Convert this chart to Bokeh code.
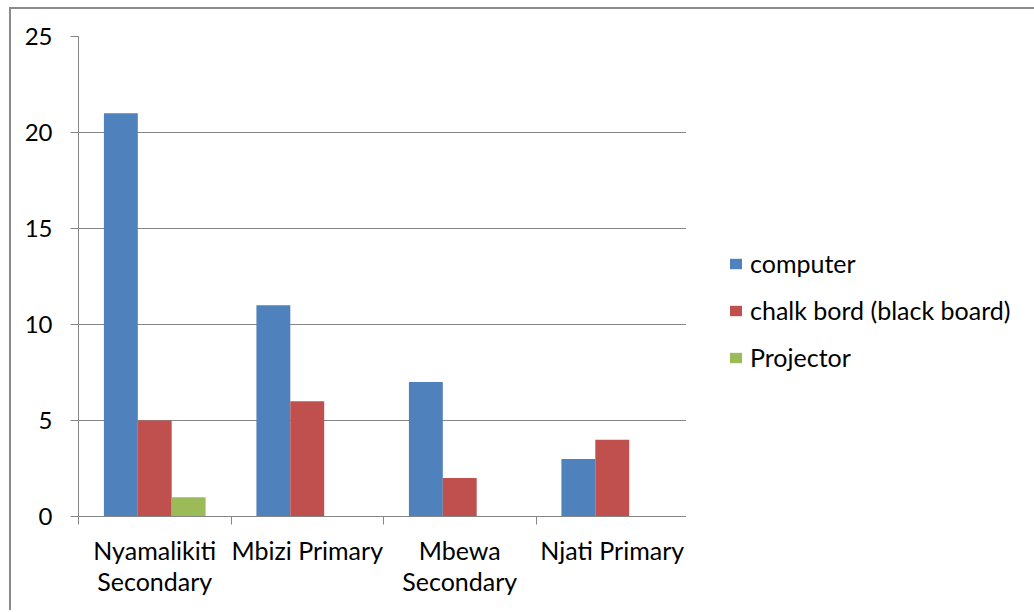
from bokeh.plotting import figure
from bokeh.layouts import row
from bokeh.models import Range1d, FixedTicker, Legend, LegendItem
from bokeh.embed import file_html
from bokeh.resources import INLINE

# Teaching tools counted at each school
schools = ["Nyamalikiti Secondary", "Mbizi Primary", "Mbewa Secondary", "Njati Primary"]
school_labels = ["Nyamalikiti\nSecondary", "Mbizi Primary", "Mbewa\nSecondary", "Njati Primary"]
computer = [21, 11, 7, 3]
chalk_board = [5, 6, 2, 4]
projector = [1, 0, 0, 0]
series_names = ["computer", "chalk bord (black board)", "Projector"]
series_colors = ["#4F81BD", "#C0504D", "#9BBB59"]
y_ticks = [0, 5, 10, 15, 20, 25]

FONT = "Lato"
GRAY = "#868686"
LABEL_SIZE = "25px"
BORDER = "2px solid #8a8a8a"

n = len(schools)
centers = [i + 0.5 for i in range(n)]
bar_w = 1 / 4.5          # three bars plus a gap of 1.5 bar widths
offsets = [-bar_w, 0.0, bar_w]

# ---- main chart -------------------------------------------------------
p = figure(width=677, height=603, output_backend="svg", toolbar_location=None,
           x_range=Range1d(0, n), y_range=Range1d(0, 25),
           min_border_left=67, min_border_top=27, min_border_bottom=96,
           min_border_right=0)
p.margin = (7, 0, 0, 9)
p.styles = {"border-top": BORDER, "border-left": BORDER}
p.outline_line_color = None
p.background_fill_color = "white"
p.border_fill_color = "white"

for vals, col, off in zip([computer, chalk_board, projector], series_colors, offsets):
    p.vbar(x=[c + off for c in centers], top=vals, bottom=0, width=bar_w,
           fill_color=col, line_color=None)

# x axis: tick marks between schools, names under each group
xa = p.xaxis[0]
xa.ticker = FixedTicker(ticks=centers, minor_ticks=list(range(n + 1)))
xa.major_label_overrides = {c: lab for c, lab in zip(centers, school_labels)}
xa.major_tick_line_color = None
xa.minor_tick_line_color = GRAY
xa.minor_tick_in = 0
xa.minor_tick_out = 8
xa.axis_line_color = GRAY
xa.major_label_text_font = FONT
xa.major_label_text_font_size = LABEL_SIZE
xa.major_label_text_color = "black"
xa.major_label_text_line_height = 1.05
xa.major_label_standoff = 10

ya = p.yaxis[0]
ya.ticker = FixedTicker(ticks=y_ticks)
ya.minor_tick_line_color = None
ya.major_tick_in = 0
ya.major_tick_out = 8
ya.major_tick_line_color = GRAY
ya.axis_line_color = GRAY
ya.major_label_text_font = FONT
ya.major_label_text_font_size = "24px"
ya.major_label_text_color = "black"
ya.major_label_standoff = 18

p.xgrid.grid_line_color = None
p.ygrid.ticker = FixedTicker(ticks=y_ticks)
p.ygrid.grid_line_color = GRAY

# ---- legend panel to the right ---------------------------------------
lf = figure(width=348, height=603, output_backend="svg", toolbar_location=None,
            x_range=Range1d(0, 1), y_range=Range1d(0, 1),
            x_axis_location=None, y_axis_location=None, min_border=0)
lf.margin = (7, 0, 0, 0)
lf.styles = {"border-top": BORDER}
lf.outline_line_color = None
lf.background_fill_color = "white"
lf.border_fill_color = "white"
lf.grid.visible = False

# zero-height swatch renderers, one per series, for the legend keys
items = []
for name, col in zip(series_names, series_colors):
    sw = lf.vbar(x=[0], top=[0], bottom=0, width=0, fill_color=col, line_color=None)
    items.append(LegendItem(label=name, renderers=[sw]))

legend = Legend(items=items, location=(42, 144), orientation="vertical",
                label_text_font=FONT, label_text_font_size=LABEL_SIZE,
                label_text_color="black", glyph_width=15, glyph_height=13,
                label_standoff=7, spacing=17, padding=0, margin=0,
                border_line_color=None, background_fill_alpha=0)
lf.add_layout(legend, "center")

layout = row(p, lf, spacing=0)
open("out.html", "w").write(file_html(layout, INLINE))
